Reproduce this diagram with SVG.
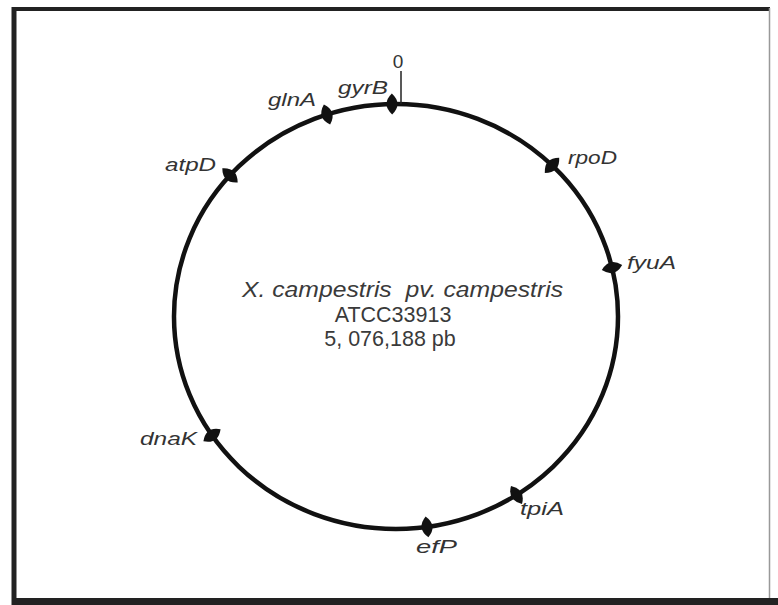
<svg xmlns="http://www.w3.org/2000/svg" width="778" height="605" viewBox="0 0 778 605">
<style>
.lbl{font-family:"Liberation Sans",Arial,sans-serif;font-style:italic;font-size:18.5px;fill:#333}
.ctr{font-family:"Liberation Sans",Arial,sans-serif;font-size:21.5px;fill:#3a3a3a}
.mk{fill:#111}
</style>
<defs>
<path id="m" d="M0,-10.5 Q11,0 0,10.5 Q-11,0 0,-10.5Z"/>
</defs>
<rect x="0" y="0" width="778" height="605" fill="#fff"/>
<g id="frame">
<line x1="12" y1="9" x2="770" y2="9" stroke="#222" stroke-width="4"/>
<line x1="14" y1="7" x2="14" y2="605" stroke="#222" stroke-width="5"/>
<rect x="12" y="598" width="766" height="7" fill="#222"/>
<line x1="769.5" y1="8" x2="769.5" y2="598" stroke="#999" stroke-width="1.5"/>
</g>
<g id="connectors">
<ellipse cx="396" cy="316.5" rx="222" ry="212.5" fill="none" stroke="#111" stroke-width="4.5"/>
<line x1="401" y1="71" x2="401" y2="104" stroke="#222" stroke-width="1.5"/>
</g>
<g id="origin"><text x="398" y="68" text-anchor="middle" style="font-family:'Liberation Sans',Arial,sans-serif;font-size:19px;fill:#333">0</text></g>
<g id="gyrB"><use href="#m" class="mk" transform="translate(392,104) rotate(-1)"/><text class="lbl" x="338" y="94" textLength="50" lengthAdjust="spacingAndGlyphs">gyrB</text></g>
<g id="glnA"><use href="#m" class="mk" transform="translate(327,114.5) rotate(-17.4)"/><text class="lbl" x="268" y="106" textLength="48" lengthAdjust="spacingAndGlyphs">glnA</text></g>
<g id="atpD"><use href="#m" class="mk" transform="translate(230,175.4) rotate(-47.2)"/><text class="lbl" x="165" y="171" textLength="51" lengthAdjust="spacingAndGlyphs">atpD</text></g>
<g id="rpoD"><use href="#m" class="mk" transform="translate(552,165.3) rotate(43.4)"/><text class="lbl" x="568" y="164" textLength="49" lengthAdjust="spacingAndGlyphs">rpoD</text></g>
<g id="fyuA"><use href="#m" class="mk" transform="translate(612,267.6) rotate(76.1)"/><text class="lbl" x="627" y="269" textLength="49" lengthAdjust="spacingAndGlyphs">fyuA</text></g>
<g id="dnaK"><use href="#m" class="mk" transform="translate(212,435.3) rotate(54.8)"/><text class="lbl" x="140" y="445" textLength="57" lengthAdjust="spacingAndGlyphs">dnaK</text></g>
<g id="tpiA"><use href="#m" class="mk" transform="translate(516.5,495) rotate(-31.7)"/><text class="lbl" x="520" y="515" textLength="44" lengthAdjust="spacingAndGlyphs">tpiA</text></g>
<g id="efP"><use href="#m" class="mk" transform="translate(427,526.9) rotate(-7.7)"/><text class="lbl" x="416" y="553" textLength="41" lengthAdjust="spacingAndGlyphs">efP</text></g>
<g id="center">
<text class="ctr" x="242" y="297" font-style="italic" textLength="321" lengthAdjust="spacingAndGlyphs" xml:space="preserve">X. campestris  pv. campestris</text>
<text class="ctr" x="393" y="322" text-anchor="middle">ATCC33913</text>
<text class="ctr" x="390" y="346" text-anchor="middle">5, 076,188 pb</text>
</g>
</svg>
